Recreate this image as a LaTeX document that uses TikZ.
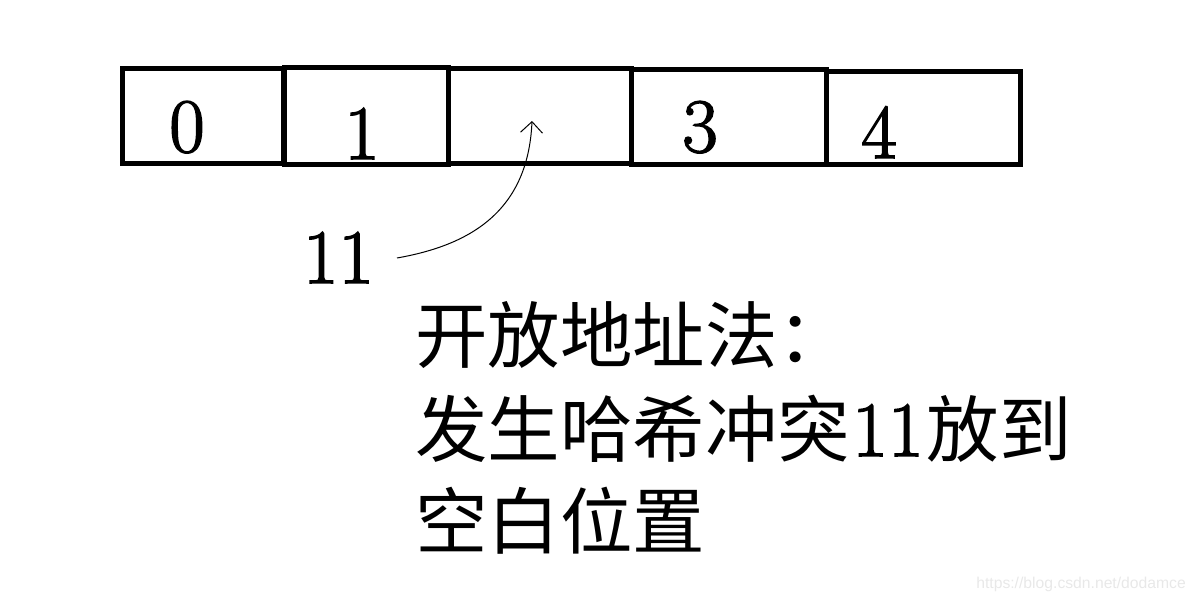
\documentclass[tikz,border=0pt]{standalone}
\usepackage{fontspec}
\newfontfamily\cjk{Noto Sans CJK SC}
\newfontfamily\wmfont{Liberation Sans}
\newfontfamily\dgt{Latin Modern Roman}[FakeBold=2]
\usetikzlibrary{arrows.meta}
\begin{document}
\begin{tikzpicture}[x=1pt,y=-1pt,
  cell/.style={draw, line width=5pt, rectangle, inner sep=0pt, outer sep=0pt},
  digit/.style={anchor=base, inner sep=0pt, font=\dgt\fontsize{77}{77}\selectfont},
  cn/.style={anchor=base west, inner sep=0pt, font=\fontsize{72.5}{72}\selectfont},
  conn/.style={line width=1pt, -{Straight Barb[length=11pt,width=22pt,line width=1pt]}}]
\useasboundingbox (0,0) rectangle (1195,602);
\node[cell, minimum width=161pt, minimum height=94pt] (b0) at (202.5,116) {};
\node[cell, minimum width=183pt, minimum height=94pt] (b2) at (539.5,116) {};
\node[cell, minimum width=195pt, minimum height=94pt] (b3) at (728.5,117) {};
\node[cell, minimum width=194pt, minimum height=92pt] (b4) at (923,118) {};
\node[cell, minimum width=164pt, minimum height=97pt] (b1) at (366,116) {};
\node[digit] (d0) at (187,152) {0};
\node[digit] (d1) at (362,159) {1};
\node[digit] (d3) at (700,152) {3};
\node[digit] (d4) at (879,158) {4};
\node[digit] (k) at (338.5,283) {11};
\coordinate (s) at (397,258);
\coordinate (e) at (532,121);
\draw[conn] (s) .. controls (465,246) and (528,215) .. (e);
\node[cn] (t1) at (415,362) {\cjk 开放地址法：};
\node[cn] (t2) at (415,456) {{\cjk 发生哈希冲突}\kern2pt{\dgt\fontsize{78}{72}\selectfont 11}\kern3pt{\cjk 放到}};
\node[cn] (t3) at (415,548) {\cjk 空白位置};
\node[anchor=base east, inner sep=0pt, text=black!9, font=\wmfont\fontsize{15.7}{16}\selectfont] (wm) at (1186,588) {https://blog.csdn.net/dodamce};
\end{tikzpicture}
\end{document}
